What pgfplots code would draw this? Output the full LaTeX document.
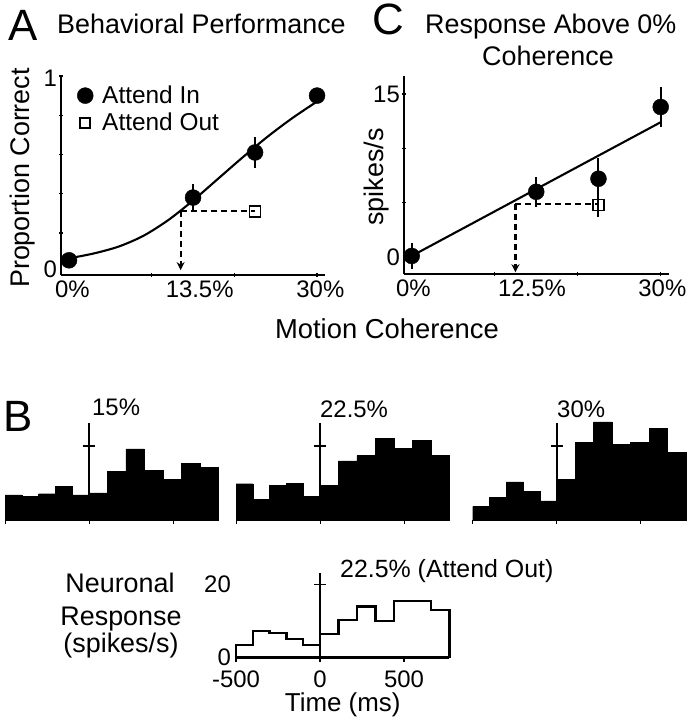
\documentclass[border=0pt]{standalone}
\usepackage{fontspec}
\setmainfont{Liberation Sans}
\usepackage{pgfplots}
\pgfplotsset{compat=1.18}
\usetikzlibrary{arrows.meta}

\newcommand\fs[1]{\fontsize{#1}{#1}\selectfont}

\pgfplotsset{
  panel/.style={
    scale only axis, clip=false,
    axis x line=bottom, axis y line=left,
    axis line style={-, line width=1.9bp},
    tick style={line width=1.3bp, black},
    major tick length=4bp,
    /pgf/number format/assume math mode=true,
    tick label style={font=\fs{24}, inner sep=1bp},
    xticklabel style={yshift=-5bp},
    yticklabel style={xshift=-3bp},
    extra tick style={major tick length=0pt},
  },
  hist/.style={
    scale only axis, clip=false,
    xmin=-500, xmax=770, ymin=0, ymax=27,
    width=213.4bp, height=99.9bp,
    axis x line=bottom, axis y line=none,
    axis line style={-, line width=1.2bp},
    xtick={-500,0,500}, xticklabels={,,},
    tick align=outside, major tick length=3.5bp,
    tick style={line width=1bp, black},
  },
  dot/.style={only marks, mark=*, mark size=8bp, black,
    error bars/.cd, y dir=both, y explicit, error mark=none,
    error bar style={line width=2bp}},
  box/.style={only marks, mark=square, mark size=5.5bp, black,
    mark options={line width=1.6bp, fill=white},
    error bars/.cd, y dir=both, y explicit, error mark=none,
    error bar style={line width=2bp}},
  guide/.style={line width=2.1bp, dash pattern=on 6bp off 4bp},
}

\begin{document}
\begin{tikzpicture}
\useasboundingbox (0,0) rectangle (688bp,-720bp);

% ---- A: behavioral performance
\begin{axis}[panel, at={(61bp,-275bp)}, anchor=south west,
  width=264bp, height=199bp,
  xmin=-0.97, xmax=30.96, ymin=-0.015, ymax=1,
  xtick={10,20,30}, xticklabels={,,},
  ytick={0.2,0.4,0.6,0.8,1}, yticklabels={,,,,},
  extra x ticks={0.4,15.8,30.4}, extra x tick labels={0\%,13.5\%,30\%},
  extra y ticks={0.015,0.987}, extra y tick labels={0,1},
  legend style={at={(axis cs:0.97,0.96)}, anchor=north west, draw=none,
    fill=none, font=\fs{24.5}, inner sep=0pt, row sep=4bp,
    /tikz/every odd column/.append style={column sep=7bp}},
  legend cell align=left,
]
\addlegendimage{only marks, mark=*, mark size=8bp, black}
\addlegendentry{Attend In}
\addlegendimage{only marks, mark=square, mark size=5bp, black, mark options={line width=1.5bp}}
\addlegendentry{Attend Out}
\addplot[forget plot, smooth, line width=2.1bp] coordinates {
  (0,0.07) (3,0.095) (6,0.13) (9,0.185) (12,0.265) (15,0.365) (18,0.475)
  (21,0.585) (24,0.69) (27,0.785) (30,0.87)};
\addplot[forget plot, guide] coordinates {(13.5,0.31) (22.5,0.31)};
\addplot[forget plot, guide, -{Stealth[length=8bp,width=8bp]}] coordinates {(13.5,0.31) (13.5,0.01)};
\addplot[forget plot, dot] coordinates {
  (0,0.06) +- (0,0.02)
  (15,0.38) +- (0,0.07)
  (22.5,0.61) +- (0,0.08)
  (30,0.90) +- (0,0.03)};
\addplot[forget plot, box] coordinates {(22.5,0.31) +- (0,0)};
\end{axis}

% ---- C: response above 0% coherence
\begin{axis}[panel, at={(404bp,-274bp)}, anchor=south west,
  width=265bp, height=198bp,
  xmin=-0.93, xmax=31, ymin=-1.56, ymax=16.65,
  xtick={10,20,30}, xticklabels={,,},
  ytick={5,10,15}, yticklabels={,,},
  extra x ticks={0.2,14.5,30.2}, extra x tick labels={0\%,12.5\%,30\%},
  extra y ticks={0,15}, extra y tick labels={0,15},
]
\addplot[line width=2.1bp] coordinates {(0,0.1) (30,12.4)};
\addplot[guide] coordinates {(12.5,4.9) (22.5,4.9)};
\addplot[guide, -{Stealth[length=8bp,width=8bp]}] coordinates {(12.5,4.9) (12.5,-1.4)};
\addplot[dot] coordinates {
  (0,0.1) +- (0,1.2)
  (15,6.0) +- (0,1.4)
  (22.5,7.2) +- (0,1.9)
  (30,13.8) +- (0,1.8)};
\addplot[box] coordinates {(22.5,4.8) +- (0,1.1)};
\end{axis}

% ---- B: histograms, 15%, 22.5%, 30%
\begin{axis}[hist, at={(5bp,-520bp)}, anchor=south west]
\addplot[const plot, fill=black, draw=black] coordinates {
  (-500,6.8) (-400,6.4) (-300,7.1) (-200,9.1) (-100,6.8) (0,7.3) (110,13.2)
  (220,19.2) (330,13.4) (440,11.0) (550,15.3) (660,14.3) (770,14.3)} \closedcycle;
\addplot[line width=2.2bp] coordinates {(0,0) (0,26.3)};
\addplot[line width=1.5bp] coordinates {(-35,20) (35,20)};
\end{axis}

\begin{axis}[hist, at={(236bp,-520bp)}, anchor=south west]
\addplot[const plot, fill=black, draw=black] coordinates {
  (-500,9.8) (-400,5.5) (-300,9.3) (-200,10.0) (-100,6.4) (0,9.3) (110,16.0)
  (220,17.4) (330,22.1) (440,19.4) (550,21.6) (660,17.5) (770,17.5)} \closedcycle;
\addplot[line width=2.2bp] coordinates {(0,0) (0,26.3)};
\addplot[line width=1.5bp] coordinates {(-35,20) (35,20)};
\end{axis}

\begin{axis}[hist, at={(472.7bp,-520bp)}, anchor=south west]
\addplot[const plot, fill=black, draw=black] coordinates {
  (-500,3.7) (-400,6.1) (-300,10.3) (-200,7.8) (-100,5.2) (0,11.0) (110,21.0)
  (220,26.5) (330,20.5) (440,21.0) (550,24.7) (660,18.3) (770,18.3)} \closedcycle;
\addplot[line width=2.2bp] coordinates {(0,0) (0,26.1)};
\addplot[line width=1.5bp] coordinates {(-35,20) (35,20)};
\end{axis}

% ---- B: attend out histogram
\begin{axis}[scale only axis, clip=false, at={(236bp,-657.5bp)}, anchor=south west,
  width=213.4bp, height=87.6bp,
  xmin=-500, xmax=770, ymin=0, ymax=24,
  axis x line=bottom, axis y line*=left,
  axis line style={-, line width=2.2bp}, y axis line style={draw=none},
  xtick={-500,0,500}, ytick={0,20},
  tick align=outside, major tick length=4bp,
  xtick style={line width=1.3bp, black}, ytick style={draw=none},
  /pgf/number format/assume math mode=true,
  tick label style={font=\fs{24}, inner sep=1bp},
  xticklabel style={yshift=-8bp},
  xlabel={Time (ms)}, xlabel style={font=\fs{26}, inner sep=0pt, yshift=-4bp},
]
\addplot[const plot, line width=2.4bp] coordinates {
  (-500,0) (-500,3.5) (-400,7.3) (-300,6.7) (-200,5.0) (-100,3.4) (0,6.4) (110,10.2)
  (220,14.0) (330,10.0) (440,15.5) (550,15.5) (660,13.0) (770,13.0) (770,0)};
\addplot[line width=2.2bp] coordinates {(0,0) (0,23.2)};
\addplot[line width=1.5bp] coordinates {(-35,20) (35,20)};
\end{axis}

% ---- titles and labels
\node[anchor=base west, font=\fs{44}, inner sep=0pt] at (8bp,-40bp) {A};
\node[anchor=base west, font=\fs{27}, inner sep=0pt] at (57bp,-33.3bp) {Behavioral Performance};
\node[anchor=base west, font=\fs{44}, inner sep=0pt] at (372bp,-34bp) {C};
\node[anchor=base west, font=\fs{27}, inner sep=0pt] at (425bp,-33.3bp) {Response Above 0\%};
\node[anchor=base, font=\fs{27}, inner sep=0pt] at (548bp,-65bp) {Coherence};
\node[rotate=90, font=\fs{27}, inner sep=0pt] at (23bp,-178bp) {Proportion Correct};
\node[rotate=90, font=\fs{27}, inner sep=0pt] at (377bp,-177bp) {spikes/s};
\node[anchor=base, font=\fs{27.5}, inner sep=0pt] at (387bp,-338bp) {Motion Coherence};
\node[anchor=base west, font=\fs{44}, inner sep=0pt] at (3bp,-431bp) {B};
\node[anchor=base west, font=\fs{24}, inner sep=0pt] at (92bp,-415bp) {15\%};
\node[anchor=base west, font=\fs{24}, inner sep=0pt] at (320bp,-417bp) {22.5\%};
\node[anchor=base west, font=\fs{24}, inner sep=0pt] at (557bp,-417bp) {30\%};
\node[anchor=base west, font=\fs{25}, inner sep=0pt] at (340bp,-577bp) {22.5\% (Attend Out)};
\node[anchor=base, font=\fs{27}, inner sep=0pt] at (120bp,-592bp) {Neuronal};
\node[anchor=base, font=\fs{27}, inner sep=0pt] at (121bp,-625bp) {Response};
\node[anchor=base, font=\fs{27}, inner sep=0pt] at (121bp,-652bp) {(spikes/s)};
\end{tikzpicture}
\end{document}
